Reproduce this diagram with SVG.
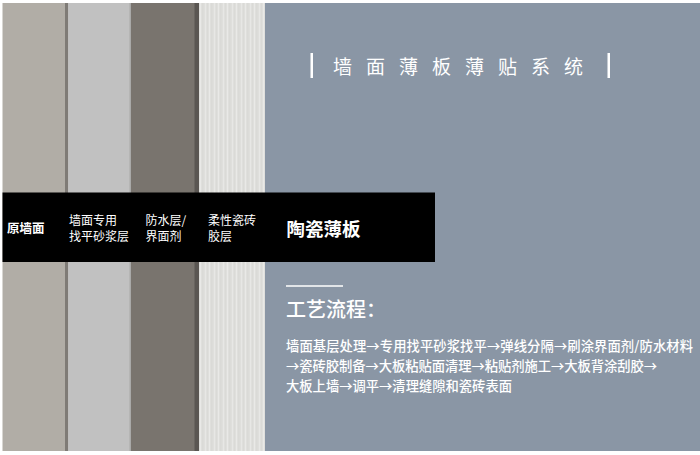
<svg xmlns="http://www.w3.org/2000/svg" width="700" height="455" viewBox="0 0 700 455">
<defs>
<pattern id="ribs" x="199" y="0" width="9" height="10" patternUnits="userSpaceOnUse">
<rect width="9" height="10" fill="#dfdfdc"/>
<rect x="1" width="1" height="10" fill="#e9e9e7"/>
<rect x="3.5" width="0.8" height="10" fill="#d5d5d2"/>
<rect x="6" width="1" height="10" fill="#e7e7e5"/>
<rect x="8" width="0.6" height="10" fill="#d8d8d5"/>
</pattern>
<style>
.lbl{font-family:"Noto Sans CJK SC","Noto Sans",sans-serif;fill:#ffffff;}
.s12{font-size:12px;}
.body{font-size:13.3px;font-weight:500;}
</style>
</defs>
<rect width="700" height="455" fill="#ffffff"/>
<g id="strip-wall">
<rect x="2.5" y="3" width="63" height="448" fill="#b1ada6"/>
<rect x="65" y="3" width="3.5" height="448" fill="#7f7b76"/>
</g>
<g id="strip-mortar">
<rect x="68.5" y="3" width="62" height="448" fill="#c1c1c1"/>
<rect x="129.5" y="3" width="1.5" height="448" fill="#a9a9a8"/>
</g>
<g id="strip-waterproof">
<rect x="131" y="3" width="68" height="448" fill="#79746e"/>
<rect x="194.5" y="3" width="4.5" height="448" fill="#5a5652"/>
</g>
<g id="strip-adhesive">
<rect x="199" y="3" width="66" height="448" fill="url(#ribs)"/>
</g>
<g id="panel">
<rect x="265" y="3" width="435" height="448" fill="#8a96a5"/>
</g>
<g id="band">
<rect x="2.5" y="192.5" width="432.5" height="69.5" fill="#000000"/>
<text class="lbl" x="7" y="232.5" font-size="12.5" font-weight="700">原墙面</text>
<text class="lbl s12" x="69" y="224.5">墙面专用</text>
<text class="lbl s12" x="69" y="240.5">找平砂浆层</text>
<text class="lbl s12" x="145.5" y="224.5">防水层/</text>
<text class="lbl s12" x="145.5" y="240.5">界面剂</text>
<text class="lbl s12" x="208" y="224.5">柔性瓷砖</text>
<text class="lbl s12" x="208" y="240.5">胶层</text>
<text class="lbl" x="286.5" y="235.5" font-size="18.5" font-weight="700">陶瓷薄板</text>
</g>
<g id="title">
<rect x="310.5" y="53" width="2.5" height="25" fill="#ffffff"/>
<rect x="607.5" y="53" width="2.5" height="25" fill="#ffffff"/>
<text class="lbl" font-size="19" y="74" x="333 366 399 432 465 498 531 564">墙面薄板薄贴系统</text>
</g>
<g id="process">
<line x1="286" y1="286" x2="343" y2="286" stroke="#ffffff" stroke-width="1.5"/>
<text class="lbl" x="286" y="316.5" font-size="20" font-weight="500">工艺流程：</text>
<text class="lbl body" x="286" y="351" textLength="407" lengthAdjust="spacing">墙面基层处理→专用找平砂浆找平→弹线分隔→刷涂界面剂/防水材料</text>
<text class="lbl body" x="286" y="371" textLength="371" lengthAdjust="spacing">→瓷砖胶制备→大板粘贴面清理→粘贴剂施工→大板背涂刮胶→</text>
<text class="lbl body" x="286" y="391" textLength="226" lengthAdjust="spacing">大板上墙→调平→清理缝隙和瓷砖表面</text>
</g>
</svg>
